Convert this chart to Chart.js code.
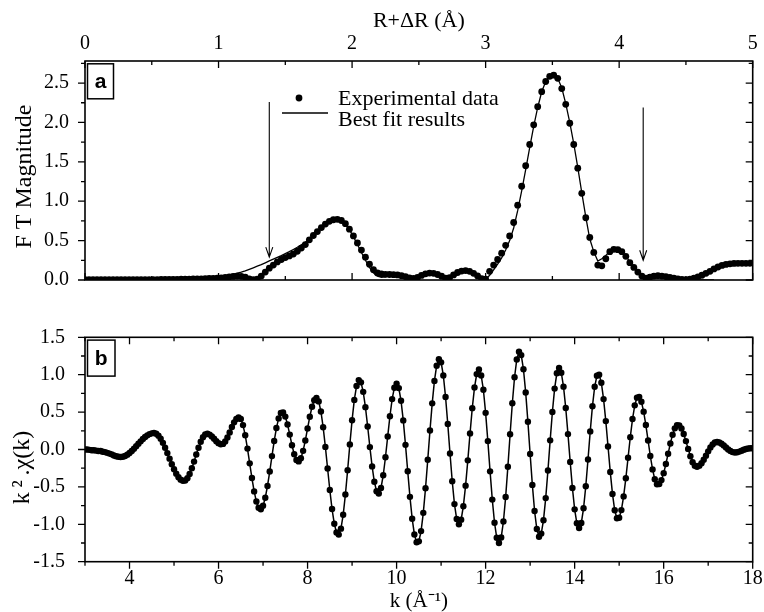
<!DOCTYPE html>
<html><head><meta charset="utf-8">
<script src="https://cdn.jsdelivr.net/npm/chart.js@4.4.1/dist/chart.umd.min.js"></script>
<style>html,body{margin:0;padding:0;background:#fff}#wrap{position:relative;width:764px;height:612px;background:#fff}canvas{position:absolute;left:0}</style>
</head><body><div id="wrap"><canvas id="ca" width="764" height="300" style="top:0"></canvas><canvas id="cb" width="764" height="312" style="top:300px"></canvas></div>
<script>
// ---------- Panel (a): FT magnitude vs R+dR ----------
const rA = [0,0.03,0.06,0.09,0.12,0.15,0.18,0.21,0.24,0.27,
0.3,0.33,0.36,0.39,0.42,0.45,0.48,0.51,0.54,0.57,
0.6,0.63,0.66,0.69,0.72,0.75,0.78,0.81,0.84,0.87,
0.9,0.93,0.96,0.99,1.02,1.05,1.08,1.11,1.14,1.17,
1.2,1.23,1.26,1.29,1.32,1.35,1.38,1.41,1.44,1.47,
1.5,1.53,1.56,1.59,1.62,1.65,1.68,1.71,1.74,1.77,
1.8,1.83,1.86,1.89,1.92,1.95,1.98,2.01,2.04,2.07,
2.1,2.13,2.16,2.19,2.22,2.25,2.28,2.31,2.34,2.37,
2.4,2.43,2.46,2.49,2.52,2.55,2.58,2.61,2.64,2.67,
2.7,2.73,2.76,2.79,2.82,2.85,2.88,2.91,2.94,2.97,
3,3.03,3.06,3.09,3.12,3.15,3.18,3.21,3.24,3.27,
3.3,3.33,3.36,3.39,3.42,3.45,3.48,3.51,3.54,3.57,
3.6,3.63,3.66,3.69,3.72,3.75,3.78,3.81,3.84,3.87,
3.9,3.93,3.96,3.99,4.02,4.05,4.08,4.11,4.14,4.17,
4.2,4.23,4.26,4.29,4.32,4.35,4.38,4.41,4.44,4.47,
4.5,4.53,4.56,4.59,4.62,4.65,4.68,4.71,4.74,4.77,
4.8,4.83,4.86,4.89,4.92,4.95,4.98];
const ftExp = [0.006,0.005,0.005,0.004,0.004,0.004,0.005,0.005,0.005,0.005,
0.005,0.005,0.004,0.004,0.005,0.005,0.006,0.006,0.006,0.007,
0.007,0.008,0.008,0.009,0.010,0.011,0.012,0.013,0.014,0.015,
0.017,0.019,0.021,0.024,0.028,0.033,0.040,0.046,0.050,0.047,
0.035,0.015,0.003,0.010,0.050,0.100,0.150,0.190,0.230,0.260,
0.285,0.305,0.330,0.365,0.405,0.450,0.510,0.565,0.615,0.665,
0.710,0.745,0.765,0.770,0.755,0.715,0.645,0.560,0.470,0.380,
0.290,0.200,0.130,0.090,0.078,0.072,0.070,0.068,0.064,0.055,
0.042,0.028,0.020,0.032,0.058,0.078,0.088,0.085,0.070,0.048,
0.025,0.030,0.065,0.095,0.113,0.120,0.110,0.085,0.052,0.018,
0.010,0.110,0.190,0.260,0.340,0.440,0.560,0.730,0.950,1.190,
1.450,1.720,1.970,2.200,2.390,2.520,2.585,2.600,2.560,2.430,
2.230,1.990,1.720,1.420,1.100,0.790,0.540,0.350,0.190,0.180,
0.270,0.360,0.390,0.385,0.360,0.300,0.220,0.160,0.100,0.050,
0.025,0.035,0.050,0.055,0.050,0.042,0.032,0.022,0.013,0.007,
0.006,0.012,0.025,0.040,0.060,0.085,0.110,0.140,0.165,0.185,
0.198,0.205,0.210,0.212,0.212,0.212,0.212];
const ftFit = [0.003,0.003,0.003,0.003,0.003,0.003,0.003,0.003,0.003,0.003,
0.003,0.003,0.004,0.004,0.005,0.005,0.006,0.007,0.008,0.009,
0.010,0.011,0.013,0.014,0.016,0.018,0.020,0.022,0.025,0.028,
0.030,0.034,0.038,0.043,0.049,0.056,0.065,0.075,0.088,0.100,
0.115,0.135,0.155,0.175,0.195,0.218,0.242,0.265,0.288,0.310,
0.335,0.360,0.387,0.415,0.447,0.480,0.520,0.565,0.615,0.665,
0.710,0.745,0.765,0.770,0.755,0.710,0.640,0.550,0.450,0.350,
0.250,0.160,0.090,0.050,0.035,0.040,0.055,0.065,0.065,0.058,
0.045,0.030,0.022,0.035,0.060,0.080,0.090,0.087,0.072,0.048,
0.022,0.035,0.075,0.110,0.130,0.140,0.130,0.100,0.060,0.020,
0.005,0.060,0.130,0.200,0.280,0.380,0.500,0.660,0.880,1.130,
1.400,1.680,1.950,2.190,2.390,2.520,2.590,2.600,2.560,2.440,
2.240,2.000,1.730,1.430,1.110,0.800,0.520,0.360,0.240,0.270,
0.310,0.360,0.385,0.380,0.355,0.305,0.230,0.160,0.100,0.050,
0.025,0.035,0.045,0.045,0.040,0.032,0.024,0.016,0.010,0.006,
0.004,0.003,0.002,0.002,0.001,0.001,0.001,0.001,null,null,
null,null,null,null,null,null,null];
const rTicks = [0,1,2,3,4,5];
const rMinor = [0.5,1.5,2.5,3.5,4.5];
const ftTicks = [0,0.5,1,1.5,2,2.5];
const ftMinor = [0.25,0.75,1.25,1.75,2.25,2.75];
// fitting-range arrows (R position, start value, tip value)
const arrowR = [1.38, 4.18];
const arrowFrom = [2.26, 2.19];
const arrowTo = [0.29, 0.25];

// ---------- Panel (b): k^2 chi(k) ----------
const kB = [3,3.05,3.1,3.15,3.2,3.25,3.3,3.35,3.4,3.45,3.5,3.55,3.6,3.65,3.7,3.75,3.8,3.85,3.9,3.95,
4,4.05,4.1,4.15,4.2,4.25,4.3,4.35,4.4,4.45,4.5,4.55,4.6,4.65,4.7,4.75,4.8,4.85,4.9,4.95,
5,5.05,5.1,5.15,5.2,5.25,5.3,5.35,5.4,5.45,5.5,5.55,5.6,5.65,5.7,5.75,5.8,5.85,5.9,5.95,
6,6.05,6.1,6.15,6.2,6.25,6.3,6.35,6.4,6.45,6.5,6.55,6.6,6.65,6.7,6.75,6.8,6.85,6.9,6.95,
7,7.05,7.1,7.15,7.2,7.25,7.3,7.35,7.4,7.45,7.5,7.55,7.6,7.65,7.7,7.75,7.8,7.85,7.9,7.95,
8,8.05,8.1,8.15,8.2,8.25,8.3,8.35,8.4,8.45,8.5,8.55,8.6,8.65,8.7,8.75,8.8,8.85,8.9,8.95,
9,9.05,9.1,9.15,9.2,9.25,9.3,9.35,9.4,9.45,9.5,9.55,9.6,9.65,9.7,9.75,9.8,9.85,9.9,9.95,
10,10.05,10.1,10.15,10.2,10.25,10.3,10.35,10.4,10.45,10.5,10.55,10.6,10.65,10.7,10.75,10.8,10.85,10.9,10.95,
11,11.05,11.1,11.15,11.2,11.25,11.3,11.35,11.4,11.45,11.5,11.55,11.6,11.65,11.7,11.75,11.8,11.85,11.9,11.95,
12,12.05,12.1,12.15,12.2,12.25,12.3,12.35,12.4,12.45,12.5,12.55,12.6,12.65,12.7,12.75,12.8,12.85,12.9,12.95,
13,13.05,13.1,13.15,13.2,13.25,13.3,13.35,13.4,13.45,13.5,13.55,13.6,13.65,13.7,13.75,13.8,13.85,13.9,13.95,
14,14.05,14.1,14.15,14.2,14.25,14.3,14.35,14.4,14.45,14.5,14.55,14.6,14.65,14.7,14.75,14.8,14.85,14.9,14.95,
15,15.05,15.1,15.15,15.2,15.25,15.3,15.35,15.4,15.45,15.5,15.55,15.6,15.65,15.7,15.75,15.8,15.85,15.9,15.95,
16,16.05,16.1,16.15,16.2,16.25,16.3,16.35,16.4,16.45,16.5,16.55,16.6,16.65,16.7,16.75,16.8,16.85,16.9,16.95,
17,17.05,17.1,17.15,17.2,17.25,17.3,17.35,17.4,17.45,17.5,17.55,17.6,17.65,17.7,17.75,17.8,17.85,17.9,17.95,
18];
const chiExp = [0,0,-0.005,-0.01,-0.01,-0.015,-0.02,-0.02,-0.03,-0.035,-0.045,-0.055,-0.065,-0.08,-0.09,-0.097,-0.1,-0.096,-0.086,-0.069,
-0.047,-0.02,0.011,0.043,0.077,0.109,0.14,0.167,0.189,0.206,0.216,0.22,0.211,0.185,0.144,0.089,0.024,-0.048,-0.122,-0.196,
-0.264,-0.323,-0.371,-0.403,-0.419,-0.415,-0.384,-0.328,-0.251,-0.162,-0.067,0.024,0.104,0.164,0.201,0.21,0.199,0.175,0.143,0.111,
0.085,0.071,0.075,0.106,0.16,0.228,0.3,0.363,0.409,0.429,0.409,0.326,0.19,0.012,-0.185,-0.382,-0.56,-0.696,-0.779,-0.799,
-0.753,-0.645,-0.487,-0.295,-0.088,0.113,0.287,0.416,0.488,0.495,0.44,0.335,0.199,0.057,-0.063,-0.14,-0.159,-0.116,-0.018,0.121,
0.281,0.438,0.571,0.659,0.69,0.643,0.509,0.298,0.035,-0.254,-0.541,-0.796,-0.992,-1.11,-1.138,-1.058,-0.873,-0.602,-0.278,0.068,
0.392,0.663,0.848,0.928,0.898,0.771,0.566,0.308,0.032,-0.226,-0.431,-0.558,-0.588,-0.514,-0.344,-0.104,0.173,0.445,0.674,0.826,
0.88,0.821,0.651,0.389,0.062,-0.29,-0.633,-0.925,-1.136,-1.24,-1.228,-1.091,-0.847,-0.518,-0.138,0.254,0.617,0.917,1.12,1.208,
1.165,0.99,0.702,0.34,-0.053,-0.424,-0.73,-0.93,-1,-0.938,-0.758,-0.483,-0.145,0.215,0.553,0.828,1.008,1.07,0.99,0.799,
0.49,0.112,-0.292,-0.67,-0.979,-1.18,-1.25,-1.176,-0.963,-0.636,-0.23,0.204,0.619,0.966,1.204,1.307,1.262,1.073,0.763,0.37,
-0.06,-0.473,-0.822,-1.063,-1.167,-1.124,-0.945,-0.65,-0.281,0.122,0.501,0.814,1.019,1.09,1.026,0.84,0.555,0.206,-0.166,-0.515,
-0.8,-0.986,-1.05,-0.982,-0.786,-0.491,-0.133,0.242,0.579,0.839,0.985,1,0.892,0.674,0.38,0.04,-0.3,-0.594,-0.812,-0.92,
-0.913,-0.81,-0.627,-0.385,-0.11,0.165,0.407,0.59,0.693,0.704,0.638,0.506,0.327,0.12,-0.087,-0.266,-0.398,-0.464,-0.461,-0.409,
-0.316,-0.194,-0.056,0.08,0.198,0.283,0.326,0.323,0.281,0.208,0.112,0.008,-0.09,-0.169,-0.218,-0.23,-0.216,-0.184,-0.137,-0.082,
-0.025,0.027,0.068,0.094,0.1,0.093,0.077,0.054,0.027,0.001,-0.02,-0.035,-0.04,-0.037,-0.028,-0.016,-0.004,0.006,0.013,0.017,
0.018];
// the best-fit curve coincides with the data at this scale in panel (b)
const chiFit = chiExp;
const kTicks = [4,6,8,10,12,14,16,18];
const kMinor = [3,5,7,9,11,13,15,17];
const chiTicks = [-1.5,-1,-0.5,0,0.5,1,1.5];
const chiMinor = [-1.25,-0.75,-0.25,0.25,0.75,1.25];

const SERIF = "'Liberation Serif','Times New Roman',serif";
Chart.defaults.font.family = SERIF;
Chart.defaults.color = '#000';

function tickMarks(spec){
  return { id:'tickmarks', afterDraw(chart){
    const {ctx, chartArea:a, scales:{x, y}} = chart;
    ctx.save(); ctx.strokeStyle = '#000'; ctx.lineWidth = 1.3; ctx.beginPath();
    ['bottom','top','left','right'].forEach(side => {
      const s = spec[side];
      [[s.major, 7],[s.minor, 4]].forEach(([vals, len]) => {
        vals.forEach(v => {
          if (side === 'bottom' || side === 'top') {
            const px = x.getPixelForValue(v);
            const base = side === 'bottom' ? a.bottom : a.top;
            const sgn = (side === 'bottom') === (s.dir === 'out') ? 1 : -1;
            ctx.moveTo(px, base); ctx.lineTo(px, base + sgn * len);
          } else {
            const py = y.getPixelForValue(v);
            const base = side === 'left' ? a.left : a.right;
            const sgn = (side === 'right') === (s.dir === 'out') ? 1 : -1;
            ctx.moveTo(base, py); ctx.lineTo(base + sgn * len, py);
          }
        });
      });
    });
    ctx.stroke();
    ctx.lineWidth = 1.6;
    ctx.strokeRect(a.left, a.top, a.right - a.left, a.bottom - a.top);
    // panel letter box
    const bx = a.left + 2.5, by = a.top + 2.8;
    ctx.lineWidth = 1.5;
    ctx.strokeRect(bx, by, spec.box.w, spec.box.h);
    ctx.fillStyle = '#000';
    ctx.font = "bold 21px 'Liberation Sans', Arial, sans-serif";
    ctx.textAlign = 'center'; ctx.textBaseline = 'middle';
    ctx.fillText(spec.box.t, bx + spec.box.w / 2, by + spec.box.h / 2 + 1);
    ctx.restore();
  }};
}

const annotA = { id:'annotA', afterDraw(chart){
  const {ctx, scales:{x, y}} = chart;
  ctx.save(); ctx.strokeStyle = '#000'; ctx.fillStyle = '#000'; ctx.lineWidth = 1.1;
  arrowR.forEach((r, i) => {
    const px = x.getPixelForValue(r), y0 = y.getPixelForValue(arrowFrom[i]), y1 = y.getPixelForValue(arrowTo[i]);
    ctx.beginPath(); ctx.moveTo(px, y0); ctx.lineTo(px, y1);
    ctx.moveTo(px - 3.5, y1 - 10); ctx.lineTo(px, y1); ctx.lineTo(px + 3.5, y1 - 10);
    ctx.stroke();
  });
  // legend
  ctx.beginPath(); ctx.arc(299, 98, 3.4, 0, Math.PI * 2); ctx.fill();
  ctx.lineWidth = 1.3; ctx.beginPath(); ctx.moveTo(282, 113); ctx.lineTo(328, 113); ctx.stroke();
  ctx.font = "22px " + SERIF; ctx.textAlign = 'left'; ctx.textBaseline = 'alphabetic';
  ctx.fillText(chart.data.datasets[1].label, 338, 105);
  ctx.fillText(chart.data.datasets[0].label, 338, 126);
  ctx.restore();
}};

new Chart(document.getElementById('ca'), {
  type: 'line',
  data: { datasets: [
    { label: 'Best fit results', data: rA.map((r, i) => ({x: r, y: ftFit[i]})), borderColor: '#000', borderWidth: 1.3, pointRadius: 0, fill: false, spanGaps: false, order: 0 },
    { label: 'Experimental data', data: rA.map((r, i) => ({x: r, y: ftExp[i]})), showLine: false, pointRadius: 3.4, pointBackgroundColor: '#000', pointBorderColor: '#000', pointBorderWidth: 0, order: 1 }
  ]},
  options: {
    responsive: false, animation: false, devicePixelRatio: 1,
    layout: { padding: { left: 0, right: 11.3, top: 0, bottom: 16.7 } },
    plugins: { legend: { display: false }, tooltip: { enabled: false } },
    scales: {
      x: { type: 'linear', position: 'top', min: 0, max: 5,
        afterBuildTicks: s => { s.ticks = rTicks.map(v => ({value: v})); },
        afterFit: s => { s.height = 61; },
        ticks: { font: { size: 20 }, padding: -3, autoSkip: false, maxRotation: 0, callback: v => String(v) },
        grid: { display: false }, border: { display: false },
        title: { display: true, text: 'R+\u0394R (\u00C5)', font: { size: 22 }, padding: { top: 8.5, bottom: 0 } } },
      y: { type: 'linear', min: 0, max: 2.78,
        afterBuildTicks: s => { s.ticks = ftTicks.map(v => ({value: v})); },
        afterFit: s => { s.width = 85; },
        ticks: { font: { size: 20 }, padding: 8, autoSkip: false, callback: v => v.toFixed(1) },
        grid: { display: false }, border: { display: false },
        title: { display: true, text: 'F T Magnitude  ', font: { size: 24 }, padding: { top: 10.5, bottom: 0 } } }
    }
  },
  plugins: [tickMarks({ bottom: {major: rTicks, minor: rMinor, dir: 'in'}, top: {major: rTicks, minor: rMinor, dir: 'in'},
    left: {major: ftTicks, minor: ftMinor, dir: 'out'}, right: {major: ftTicks, minor: ftMinor, dir: 'in'}, box: {w: 26, h: 35, t: 'a'} }), annotA]
});

new Chart(document.getElementById('cb'), {
  type: 'line',
  data: { datasets: [
    { label: 'Best fit results', data: kB.map((k, i) => ({x: k, y: chiFit[i]})), borderColor: '#000', borderWidth: 1.5, pointRadius: 0, fill: false, order: 0 },
    { label: 'Experimental data', data: kB.map((k, i) => ({x: k, y: chiExp[i]})), showLine: false, pointRadius: 3.2, pointBackgroundColor: '#000', pointBorderColor: '#000', pointBorderWidth: 0, order: 1 }
  ]},
  options: {
    responsive: false, animation: false, devicePixelRatio: 1,
    layout: { padding: { left: 0, right: 11.3, top: 37.3, bottom: 0 } },
    plugins: { legend: { display: false }, tooltip: { enabled: false } },
    scales: {
      x: { type: 'linear', position: 'bottom', min: 3, max: 18,
        afterBuildTicks: s => { s.ticks = kTicks.map(v => ({value: v})); },
        afterFit: s => { s.height = 50.3; },
        ticks: { font: { size: 20 }, padding: -2.5, autoSkip: false, maxRotation: 0, callback: v => String(v) },
        grid: { display: false }, border: { display: false },
        title: { display: true, text: 'k (\u00C5\u207B\u00B9)', font: { size: 21, lineHeight: 1 }, padding: { top: 0, bottom: 0 } } },
      y: { type: 'linear', min: -1.5, max: 1.5,
        afterBuildTicks: s => { s.ticks = chiTicks.map(v => ({value: v})); },
        afterFit: s => { s.width = 85; },
        ticks: { font: { size: 20 }, padding: 12, autoSkip: false, callback: v => v.toFixed(1) },
        grid: { display: false }, border: { display: false },
        title: { display: true, text: 'k\u2009\u00B2\u2009.\u03C7(k)      ', font: { size: 24 }, padding: { top: 8, bottom: 0 } } }
    }
  },
  plugins: [tickMarks({ bottom: {major: kTicks, minor: kMinor, dir: 'out'}, top: {major: kTicks, minor: kMinor, dir: 'in'},
    left: {major: chiTicks, minor: chiMinor, dir: 'out'}, right: {major: chiTicks, minor: chiMinor, dir: 'in'}, box: {w: 27.5, h: 36, t: 'b'} })]
});
</script></body></html>
